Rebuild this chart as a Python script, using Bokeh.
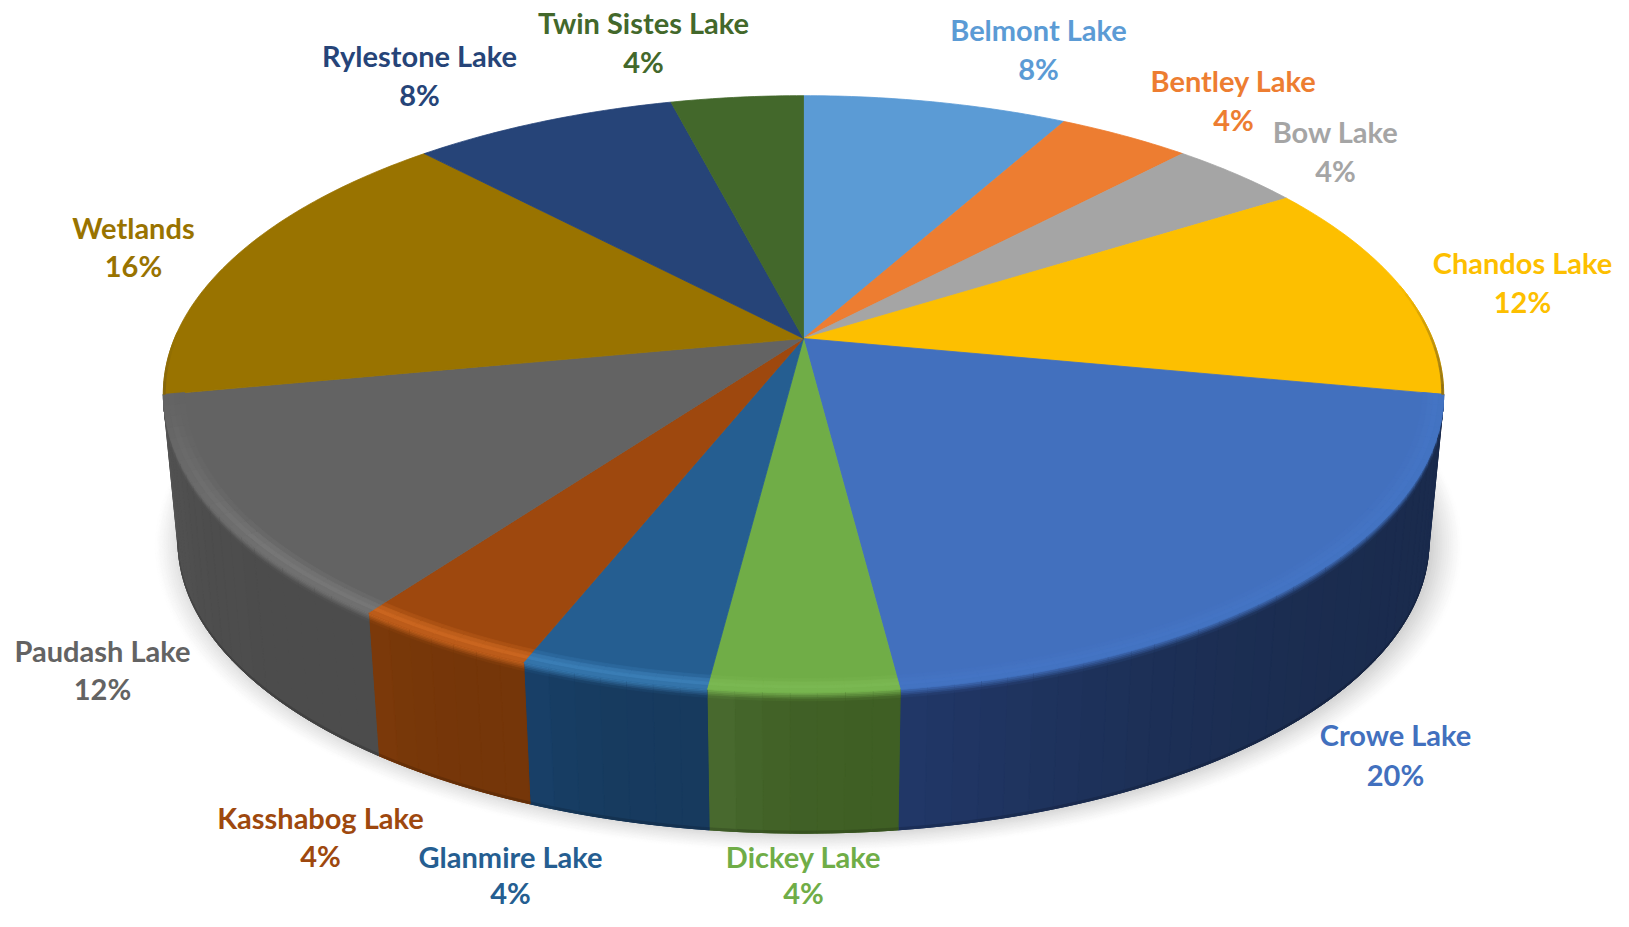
import numpy as np
from bokeh.plotting import figure
from bokeh.models import ColumnDataSource, Range1d
from bokeh.core.properties import value
from bokeh.embed import file_html
from bokeh.resources import INLINE

# ---------- data ----------
names = ["Belmont Lake", "Bentley Lake", "Bow Lake", "Chandos Lake", "Crowe Lake", "Dickey Lake",
         "Glanmire Lake", "Kasshabog Lake", "Paudash Lake", "Wetlands", "Rylestone Lake", "Twin Sistes Lake"]
shares = [8, 4, 4, 12, 20, 4, 4, 4, 12, 16, 8, 4]

# ---------- styles ----------
face_colors = ["#5B9BD5", "#ED7D31", "#A5A5A5", "#FDBF00", "#4270BE", "#70AD47",
               "#255E91", "#9E480E", "#636363", "#997300", "#264478", "#43682B"]
side_start = {"Crowe Lake": "#1A2B4D", "Dickey Lake": "#3F5F24", "Glanmire Lake": "#173A5E",
              "Kasshabog Lake": "#753609", "Paudash Lake": "#4C4C4C"}
side_end = {"Crowe Lake": "#213868", "Dickey Lake": "#4A6B30", "Glanmire Lake": "#184069",
            "Kasshabog Lake": "#7C3A0A", "Paudash Lake": "#555555"}
highlight = {"Crowe Lake": "#4474C4", "Dickey Lake": "#7AB852", "Glanmire Lake": "#3A7DB5",
             "Kasshabog Lake": "#C9651F", "Paudash Lake": "#767676"}
FONT = "Lato"
FONT_SIZE = "29px"
# label centres, picture pixels: (x, y of name line, y of percent line)
label_x = [1038, 1233, 1335, 1522, 1395, 803, 510, 320, 102, 133, 419, 643]
label_y1 = [29, 80, 131, 262, 734, 856, 856, 817, 650, 227, 55, 22]
label_y2 = [68, 119, 170, 301, 774, 892, 892, 855, 688, 265, 94, 61]

# ---------- perspective of the disc ----------
CX, CY, A, B, K = 803.0, 338.0, 629.0, 288.0, 0.186
S, DZ = 0.977, 149.0


def project(theta, r=1.0, z=0.0):
    theta = np.asarray(theta, dtype=float)
    u, v = r * np.sin(theta), r * np.cos(theta)
    w = 1 + K * v
    sc = 1 - z * (1 - S)
    return CX + A * sc * u / w, CY - B * sc * v / w + z * DZ


def hex2rgb(c):
    return np.array([int(c[i:i + 2], 16) for i in (1, 3, 5)], dtype=float)


def mix(c1, c2, t):
    a = hex2rgb(c1) * (1 - t) + hex2rgb(c2) * t
    return "#%02x%02x%02x" % tuple(int(round(x)) for x in a)


total = sum(shares)
edges = np.concatenate([[0], np.cumsum(shares)]) / total * 2 * np.pi

p = figure(width=1613, height=911, output_backend="svg", toolbar_location=None,
           x_range=Range1d(0, 1613), y_range=Range1d(911, 0), min_border=0,
           outline_line_color=None, background_fill_color="white", border_fill_color="white")
p.axis.visible = False
p.grid.visible = False

xs, ys, cols = [], [], []


def add(x, y, c):
    xs.append(list(np.round(x, 2)))
    ys.append(list(np.round(y, 2)))
    cols.append(c)


# ---------- soft shadow under the disc ----------
whole = np.linspace(0, 2 * np.pi, 240)
N_SH = 16
for i in range(N_SH):
    t = i / (N_SH - 1)
    x, y = project(whole, r=1.046 - 0.05 * t, z=1.0)
    add(x + 5, y, mix("#FFFFFF", "#D2D2D2", t ** 1.3))

# ---------- side wall (front part only) ----------
vis0, vis1 = np.deg2rad(100.8), np.deg2rad(259.2)
bands_z = [0.0, 0.012, 0.024, 0.036, 0.048, 0.06]
for i, name in enumerate(names):
    a0, a1 = max(edges[i], vis0), min(edges[i + 1], vis1)
    if a1 <= a0 or name not in side_start:
        continue
    # solid base so no seam between strips lets the shadow through
    th_all = np.linspace(a0, a1, 60)
    x0, y0 = project(th_all, z=0.0)
    x1, y1 = project(th_all[::-1], z=1.0)
    add(np.r_[x0, x1], np.r_[y0, y1], side_start[name])
    n = max(4, int(np.degrees(a1 - a0) / 2.0))
    cuts = np.linspace(a0, a1, n + 1)
    for j in range(n):
        t = ((j + 0.5) / n) ** 3
        wall = mix(side_start[name], side_end[name], t)
        th = np.linspace(cuts[j], cuts[j + 1], 3)
        x0, y0 = project(th, z=0.0)
        x1, y1 = project(th[::-1], z=1.0)
        add(np.r_[x0, x1], np.r_[y0, y1], wall)
        x0, y0 = project(th, z=0.985)
        add(np.r_[x0, x1], np.r_[y0, y1], mix(wall, "#000000", 0.15))
        for k in range(len(bands_z) - 1):
            x0, y0 = project(th, z=bands_z[k])
            x1b, y1b = project(th[::-1], z=bands_z[k + 1])
            add(np.r_[x0, x1b], np.r_[y0, y1b],
                mix(highlight[name], wall, (k + 0.5) / (len(bands_z) - 1)))

# ---------- top faces ----------
for i, name in enumerate(names):
    th = np.linspace(edges[i], edges[i + 1], max(8, shares[i] * 5))
    x, y = project(th)
    add(np.r_[CX, x], np.r_[CY, y], face_colors[i])

# ---------- rim highlight on the front faces ----------
bands_r = [0.968, 0.976, 0.984, 0.992, 1.0]
band_int = [0.3, 0.75, 1.0, 0.7]
for i, name in enumerate(names):
    a0, a1 = max(edges[i], vis0), min(edges[i + 1], vis1)
    if a1 <= a0 or name not in highlight:
        continue
    n = max(4, int(np.degrees(a1 - a0) / 2.0))
    cuts = np.linspace(a0, a1, n + 1)
    for j in range(n):
        th = np.linspace(cuts[j], cuts[j + 1], 3)
        fade = np.clip((np.degrees(vis1) - np.degrees(th.mean())) / 30.0, 0, 1)
        for k in range(len(bands_r) - 1):
            x0, y0 = project(th, r=bands_r[k])
            x1, y1 = project(th[::-1], r=bands_r[k + 1])
            add(np.r_[x0, x1], np.r_[y0, y1],
                mix(face_colors[i], highlight[name], band_int[k] * fade))

# ---------- dark thin edge where the rim turns away ----------
for name, strength, span in (("Chandos Lake", 0.7, 22.0), ("Wetlands", 0.35, 12.0)):
    i = names.index(name)
    limit = 100.8 if name == "Chandos Lake" else 259.2
    cuts = np.linspace(edges[i], edges[i + 1], 25)
    for j in range(24):
        th = np.linspace(cuts[j], cuts[j + 1], 3)
        far = np.clip(1 - abs(np.degrees(th.mean()) - limit) / span, 0, 1)
        if far <= 0:
            continue
        x0, y0 = project(th, r=0.997)
        x1, y1 = project(th[::-1], r=1.0)
        add(np.r_[x0, x1], np.r_[y0, y1], mix(face_colors[i], "#5A4A20", far * strength))

p.patches("x", "y", fill_color="c", line_color="c", line_width=0.8,
          source=ColumnDataSource(dict(x=xs, y=ys, c=cols)))

# ---------- labels ----------
percents = ["%d%%" % round(100 * s / total) for s in shares]
for lx, ly, txt in ((label_x, label_y1, names), (label_x, label_y2, percents)):
    p.text("x", "y", text="t", text_color="c", text_align="center", text_baseline="middle",
           text_font=value(FONT), text_font_style="bold", text_font_size=FONT_SIZE,
           source=ColumnDataSource(dict(x=lx, y=ly, t=txt, c=face_colors)))

open("out.html", "w").write(file_html(p, INLINE))
